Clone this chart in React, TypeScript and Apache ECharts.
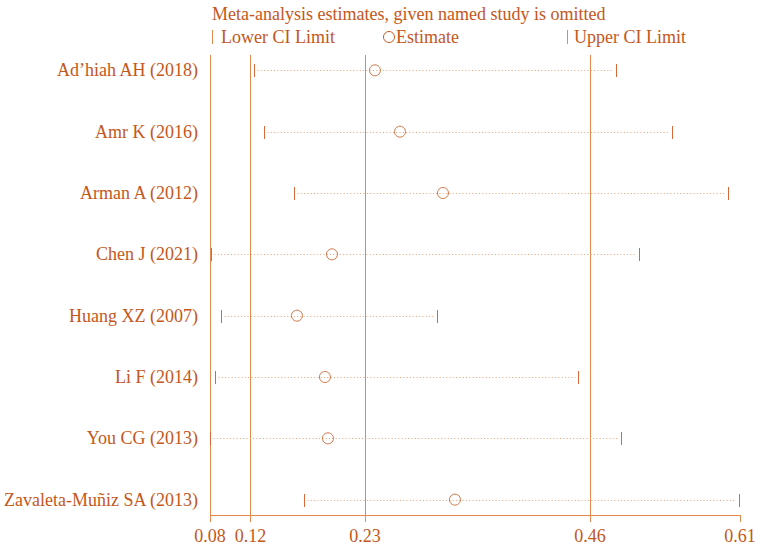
import React, { useEffect, useRef } from "react";
import * as echarts from "echarts";

const studies = [
  "Ad\u2019hiah AH (2018)",
  "Amr K (2016)",
  "Arman A (2012)",
  "Chen J (2021)",
  "Huang XZ (2007)",
  "Li F (2014)",
  "You CG (2013)",
  "Zavaleta-Mu\u00f1iz SA (2013)",
];
const estimates = [0.245, 0.27, 0.313, 0.202, 0.167, 0.195, 0.198, 0.325];
const lowerCI = [0.124, 0.134, 0.164, 0.0807, 0.091, 0.0846, 0.08, 0.174];
const upperCI = [0.487, 0.543, 0.599, 0.51, 0.308, 0.449, 0.492, 0.61];
const overallLines = [0.1205, 0.235, 0.4601];
const xTickValues = [0.08, 0.1205, 0.235, 0.4601, 0.61];

const TEXT = "#c4571b";
const LINE = "#e5884c";
const DOT = "#eea070";
const TICK = "#d8683a";
const FONT = "Liberation Serif";
const FS = 18;

export default function App() {
  const ref = useRef<HTMLDivElement>(null);
  useEffect(() => {
    if (!ref.current) return;
    const chart = echarts.init(ref.current, null, { renderer: "svg" });
    const rows = studies.map((_, i) => i + 1);
    const legendFont = `${FS}px "${FONT}", serif`;
    const option: any = {
      animation: false,
      textStyle: { fontFamily: FONT },
      grid: { left: 209, right: 22, top: 55, bottom: 35 },
      xAxis: {
        type: "value",
        min: 0.08,
        max: 0.61,
        splitLine: { show: false },
        axisLine: { show: false },
        axisTick: { show: true, customValues: xTickValues, length: 7, lineStyle: { color: LINE, width: 1 } },
        axisLabel: {
          customValues: xTickValues,
          formatter: (v: number) => v.toFixed(2),
          color: TEXT,
          fontFamily: FONT,
          fontSize: FS,
          margin: 12,
        },
      },
      yAxis: {
        type: "value",
        inverse: true,
        min: 0.75,
        max: 8.25,
        splitLine: { show: false },
        axisLine: { show: false },
        axisTick: { show: false },
        axisLabel: {
          customValues: rows,
          formatter: (v: number) => studies[Math.round(v) - 1] || "",
          color: TEXT,
          fontFamily: FONT,
          fontSize: FS,
          margin: 12,
        },
      },
      graphic: [
        {
          type: "text",
          x: 212,
          y: 14,
          style: {
            text: "Meta-analysis estimates, given named study is omitted",
            fill: TEXT,
            font: legendFont,
            verticalAlign: "middle",
          },
        },
        { type: "line", shape: { x1: 212.5, y1: 30, x2: 212.5, y2: 44 }, style: { stroke: LINE, lineWidth: 1 } },
        { type: "text", x: 221, y: 37, style: { text: "Lower CI Limit", fill: TEXT, font: legendFont, verticalAlign: "middle" } },
        { type: "circle", shape: { cx: 389, cy: 37, r: 5.5 }, style: { stroke: TEXT, fill: "none", lineWidth: 1 } },
        { type: "text", x: 396, y: 37, style: { text: "Estimate", fill: TEXT, font: legendFont, verticalAlign: "middle" } },
        { type: "line", shape: { x1: 567.5, y1: 30, x2: 567.5, y2: 44 }, style: { stroke: LINE, lineWidth: 1 } },
        { type: "text", x: 574, y: 37, style: { text: "Upper CI Limit", fill: TEXT, font: legendFont, verticalAlign: "middle" } },
      ],
      series: [
        {
          type: "custom",
          silent: true,
          data: [[0.08, 1]],
          encode: { x: 0, y: 1 },
          renderItem: (params: any) => {
            const cs = params.coordSys;
            const l = Math.round(cs.x) + 0.5;
            const b = Math.round(cs.y + cs.height) + 0.5;
            return {
              type: "group",
              children: [
                { type: "line", shape: { x1: l, y1: cs.y, x2: l, y2: b }, style: { stroke: LINE, lineWidth: 1 } },
                { type: "line", shape: { x1: l, y1: b, x2: cs.x + cs.width, y2: b }, style: { stroke: LINE, lineWidth: 1 } },
              ],
            };
          },
          z: 1,
        },
        {
          type: "custom",
          silent: true,
          data: overallLines.map((v) => [v, 1]),
          encode: { x: 0, y: 1 },
          renderItem: (params: any, api: any) => {
            const cs = params.coordSys;
            const p = api.coord([api.value(0), 1]);
            const x = Math.round(p[0]) + 0.5;
            return {
              type: "line",
              shape: { x1: x, y1: cs.y, x2: x, y2: cs.y + cs.height },
              style: { stroke: LINE, lineWidth: 1 },
            };
          },
          z: 2,
        },
        {
          type: "custom",
          silent: true,
          data: studies.map((_, i) => [lowerCI[i], upperCI[i], i + 1]),
          encode: { x: [0, 1], y: 2 },
          renderItem: (_params: any, api: any) => {
            const y = api.value(2);
            const p1 = api.coord([api.value(0), y]);
            const p2 = api.coord([api.value(1), y]);
            const yy = Math.round(p1[1]) + 0.5;
            const x1 = Math.round(p1[0]) + 0.5;
            const x2 = Math.round(p2[0]) - 0.5;
            return {
              type: "group",
              children: [
                {
                  type: "line",
                  shape: { x1: x1 + 3, y1: yy, x2: x2 - 3, y2: yy },
                  style: { stroke: DOT, lineWidth: 1, lineDash: [1, 2.3] },
                },
                {
                  type: "line",
                  shape: { x1: x1, y1: yy - 6.5, x2: x1, y2: yy + 6.5 },
                  style: { stroke: TICK, lineWidth: 1 },
                },
                {
                  type: "line",
                  shape: { x1: x2, y1: yy - 6.5, x2: x2, y2: yy + 6.5 },
                  style: { stroke: TICK, lineWidth: 1 },
                },
              ],
            };
          },
          z: 3,
        },
        {
          type: "scatter",
          data: studies.map((_, i) => [estimates[i], i + 1]),
          symbol: "circle",
          symbolSize: 11,
          itemStyle: { color: "rgba(255,255,255,0)", borderColor: TEXT, borderWidth: 1 },
          z: 4,
        },
      ],
    };
    chart.setOption(option);
    return () => chart.dispose();
  }, []);
  return (
    <div
      ref={ref}
      style={{ position: "fixed", left: 0, top: 0, width: 762, height: 550, background: "#fff" }}
    />
  );
}
